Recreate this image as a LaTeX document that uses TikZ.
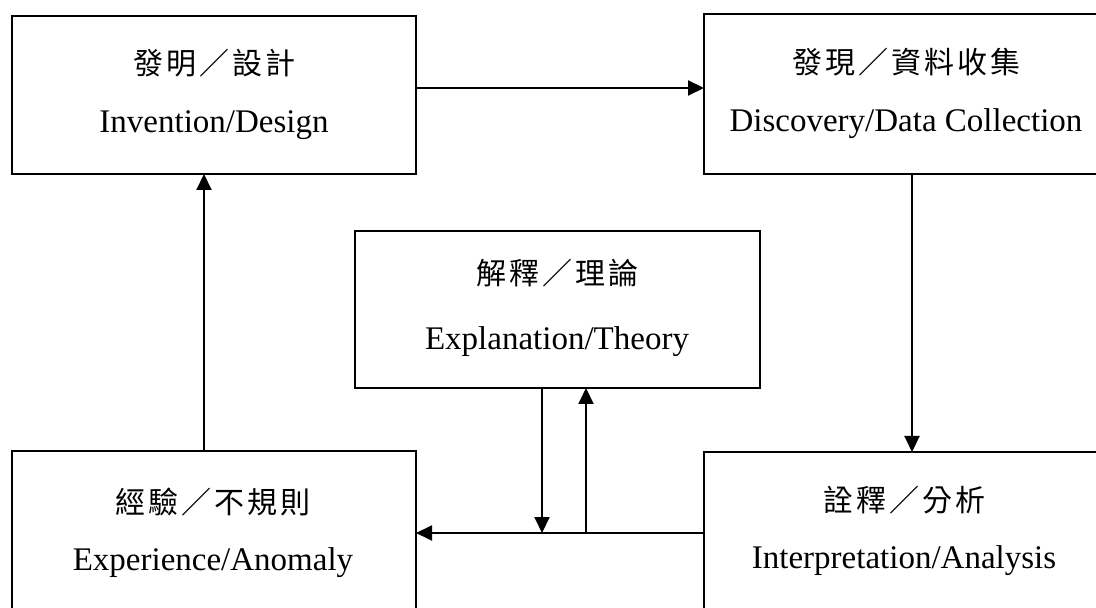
\documentclass[tikz,border=0pt]{standalone}
\usepackage{fontspec}
\setmainfont{Liberation Serif}
\newfontfamily\cjk[LetterSpace=10]{Noto Sans CJK TC}
\usetikzlibrary{arrows.meta}
\tikzset{
  box/.style={draw, line width=1pt, rectangle, inner sep=0pt, outer sep=0pt},
  cjktxt/.style={anchor=center, inner sep=0pt, font=\cjk\fontsize{15pt}{17pt}\selectfont},
  entxt/.style={anchor=base, inner sep=0pt, font=\fontsize{16.5pt}{19pt}\selectfont},
  arr/.style={line width=1pt, -{Triangle[length=8pt,width=7.5pt]}},
  ln/.style={line width=1pt}
}
\begin{document}
\begin{tikzpicture}[x=0.5pt,y=-0.5pt]
\useasboundingbox (0,0) rectangle (1096,608);
% boxes
\node[box, minimum width=202pt, minimum height=79pt] (inv) at (214,95) {};
\node[box, minimum width=202pt, minimum height=80pt] (disc) at (906,94) {};
\node[box, minimum width=202.5pt, minimum height=78.5pt] (expl) at (557.5,309.5) {};
\node[box, minimum width=202pt, minimum height=80.5pt] (exp) at (214,531.5) {};
\node[box, minimum width=202pt, minimum height=80pt] (interp) at (906,532) {};
% texts
\node[cjktxt] (invc) at (214,63) {發明／設計};
\node[entxt] (inve) at (214,133) {Invention/Design};
\node[cjktxt] (discc) at (906,62) {發現／資料收集};
\node[entxt] (disce) at (906,132) {Discovery/Data Collection};
\node[cjktxt] (explc) at (557,273) {解釋／理論};
\node[entxt] (exple) at (557,350) {Explanation/Theory};
\node[cjktxt] (expc) at (213,502) {經驗／不規則};
\node[entxt] (expe) at (213,570) {Experience/Anomaly};
\node[cjktxt] (interpc) at (904,500) {詮釋／分析};
\node[entxt] (interpe) at (904,568) {Interpretation/Analysis};
% helper coordinates
\coordinate (ya) at (0,88);
\coordinate (yb) at (0,533);
\coordinate (xa) at (912,0);
\coordinate (xb) at (204,0);
\coordinate (xc) at (586,0);
\coordinate (xd) at (542,0);
\coordinate (down) at (xd |- yb);
\coordinate (up) at (xc |- yb);
% connectors
\draw[arr] (inv.east |- ya) -- (disc.west |- ya);
\draw[arr] (disc.south -| xa) -- (interp.north -| xa);
\draw[arr] (exp.north -| xb) -- (inv.south -| xb);
\draw[arr] (interp.west |- yb) -- (exp.east |- yb);
\draw[arr] (up) -- (expl.south -| xc);
\draw[arr] (expl.south -| xd) -- (down);
\end{tikzpicture}
\end{document}
